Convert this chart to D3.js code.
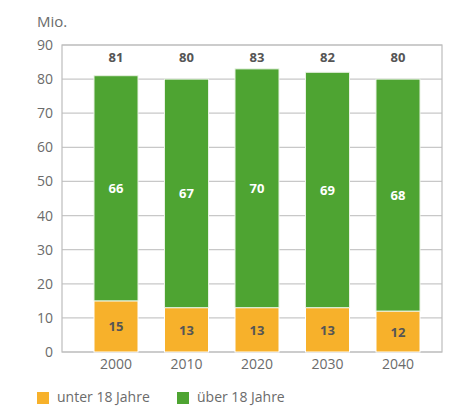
<!DOCTYPE html>
<html><head><meta charset="utf-8">
<script src="https://cdn.jsdelivr.net/npm/d3@7"></script>
<style>body{margin:0;background:#fff}svg{display:block}text{font-family:"Open Sans",sans-serif}</style>
</head><body><svg id="c" width="450" height="407"></svg>
<script>
const categories = ["2000","2010","2020","2030","2040"];
const under18 = [15,13,13,13,12];
const over18 = [66,67,70,69,68];
const totals = [81,80,83,82,80];
const yTicks = [0,10,20,30,40,50,60,70,80,90];
const seriesNames = ["unter 18 Jahre","über 18 Jahre"];
const colors = ["#f7b12b","#4ea432"];

const svg = d3.select("#c");
const L=62,R=442,T=45,B=352;
const y = d3.scaleLinear().domain([0,90]).range([B,T]);
const x = d3.scaleBand().domain(categories).range([80.75,433.25]).paddingInner(0.376).paddingOuter(0.188);

// grid
svg.append("g").selectAll("line").data(yTicks).join("line")
 .attr("x1",L).attr("x2",R).attr("y1",d=>y(d)).attr("y2",d=>y(d))
 .attr("stroke","#c8c8c8").attr("stroke-width",1.2);
svg.append("rect").attr("x",L).attr("y",T).attr("width",R-L).attr("height",B-T)
 .attr("fill","none").attr("stroke","#bdbdbd").attr("stroke-width",1.2);

const yAxis = d3.axisLeft(y).tickValues(yTicks).tickSize(0).tickPadding(9);
const gy = svg.append("g").attr("transform",`translate(${L},0)`).call(yAxis);
gy.select(".domain").remove();
gy.selectAll("text").attr("font-size",14).attr("fill","#6b6b6b").attr("font-family","'Open Sans',sans-serif");

const xAxis = d3.axisBottom(x).tickSize(0).tickPadding(7);
const gx = svg.append("g").attr("transform",`translate(0,${B})`).call(xAxis);
gx.select(".domain").remove();
gx.selectAll("text").attr("font-size",14).attr("fill","#6b6b6b").attr("font-family","'Open Sans',sans-serif");

svg.append("text").attr("x",37).attr("y",27).attr("font-size",15).attr("fill","#6b6b6b").text("Mio.");

// bars
const g = svg.append("g");
g.selectAll(".u").data(categories).join("rect")
 .attr("x",d=>x(d)).attr("width",x.bandwidth())
 .attr("y",(d,i)=>y(under18[i])).attr("height",(d,i)=>y(0)-y(under18[i]))
 .attr("fill",colors[0]).attr("stroke","#fff").attr("stroke-width",1);
g.selectAll(".o").data(categories).join("rect")
 .attr("x",d=>x(d)).attr("width",x.bandwidth())
 .attr("y",(d,i)=>y(under18[i]+over18[i])).attr("height",(d,i)=>y(under18[i])-y(under18[i]+over18[i]))
 .attr("fill",colors[1]).attr("stroke","#e8f2e2").attr("stroke-width",1);

// labels
const lab = (sel)=>sel.attr("text-anchor","middle").attr("font-weight",700).attr("font-size",13).attr("dominant-baseline","central");
lab(svg.append("g").selectAll("text").data(categories).join("text")
 .attr("x",d=>x(d)+x.bandwidth()/2).attr("y",(d,i)=>y(under18[i]/2))
 .attr("fill","#555").text((d,i)=>under18[i]));
lab(svg.append("g").selectAll("text").data(categories).join("text")
 .attr("x",d=>x(d)+x.bandwidth()/2).attr("y",(d,i)=>y(under18[i]+over18[i]/2))
 .attr("fill","#fff").text((d,i)=>over18[i]));
lab(svg.append("g").selectAll("text").data(categories).join("text")
 .attr("x",d=>x(d)+x.bandwidth()/2).attr("y",y(86.5))
 .attr("fill","#555").text((d,i)=>totals[i]));

// legend
const lg = svg.append("g");
const lx=[37,177];
seriesNames.forEach((n,i)=>{
  lg.append("rect").attr("x",lx[i]).attr("y",392).attr("width",12).attr("height",12).attr("fill",colors[i]);
  lg.append("text").attr("x",lx[i]+20).attr("y",402).attr("font-size",14).attr("fill","#6b6b6b").text(n);
});
</script></body></html>
